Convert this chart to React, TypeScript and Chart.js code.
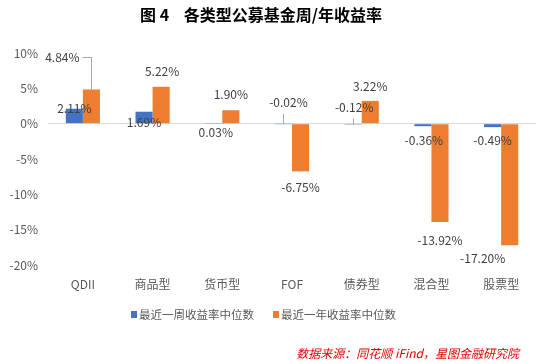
import React, { useEffect, useRef } from "react";
import { Chart, registerables } from "chart.js";

Chart.register(...registerables);

const categories = ["QDII", "商品型", "货币型", "FOF", "债券型", "混合型", "股票型"];
const weeklyMedian = [2.11, 1.69, 0.03, -0.02, -0.12, -0.36, -0.49];
const yearlyMedian = [4.84, 5.22, 1.9, -6.75, 3.22, -13.92, -17.2];
const seriesNames = ["最近一周收益率中位数", "最近一年收益率中位数"];
const seriesColors = ["#4472C4", "#ED7D31"];
const yTicks = [10, 5, 0, -5, -10, -15, -20];
const titleText = "图 4    各类型公募基金周/年收益率";
const sourceText = "数据来源：同花顺 iFind，星图金融研究院";

// label offsets relative to bar end (styling only)
const labelOffsets: number[][][] = [
  [[0, 0], [0, 11], [2, 9], [5, -21], [1, -17], [1, 14], [0, 13.5]],
  [[-29, -32], [1, -15], [0, -15.6], [0, 16], [0, -14], [0, 18.5], [-27, 13.5]],
];
const legendX = [131, 273];

const FONT = "'Noto Sans CJK SC', 'Noto Sans', sans-serif";

const labelPlugin = {
  id: "valueLabels",
  afterDatasetsDraw(chart: any) {
    const ctx = chart.ctx;
    ctx.save();
    ctx.font = `12px ${FONT}`;
    ctx.fillStyle = "#404040";
    ctx.textAlign = "center";
    ctx.textBaseline = "middle";
    chart.data.datasets.forEach((ds: any, di: number) => {
      const meta = chart.getDatasetMeta(di);
      meta.data.forEach((el: any, i: number) => {
        const v = ds.data[i] as number;
        const [dx, dy] = labelOffsets[di][i];
        const x = el.x + dx;
        const y = el.y + dy;
        const txt = v.toFixed(2) + "%";
        ctx.fillText(txt, x, y);
        ctx.strokeStyle = "#a6a6a6";
        ctx.lineWidth = 1;
        if (di === 1 && i === 0) {
          const w = ctx.measureText(txt).width;
          ctx.beginPath();
          ctx.moveTo(x + w / 2 + 3, Math.round(y) + 0.5);
          ctx.lineTo(Math.round(el.x) + 0.5, Math.round(y) + 0.5);
          ctx.lineTo(Math.round(el.x) + 0.5, el.y);
          ctx.stroke();
        }
        if (di === 0 && (i === 3 || i === 4)) {
          ctx.beginPath();
          ctx.moveTo(Math.round(el.x) + 0.5, y + 11);
          ctx.lineTo(Math.round(el.x) + 0.5, el.y);
          ctx.stroke();
        }
      });
    });
    ctx.restore();
  },
  afterDraw(chart: any) {
    const ctx = chart.ctx;
    ctx.save();
    // title
    ctx.font = `bold 16px ${FONT}`;
    ctx.fillStyle = "#000000";
    ctx.textAlign = "center";
    ctx.textBaseline = "middle";
    ctx.fillText(titleText, 261, 15);
    // legend
    ctx.font = `11.5px ${FONT}`;
    ctx.textAlign = "left";
    chart.data.datasets.forEach((ds: any, di: number) => {
      const lx = legendX[di];
      ctx.fillStyle = seriesColors[di];
      ctx.fillRect(lx, 311, 6, 7);
      ctx.fillStyle = "#595959";
      ctx.fillText(ds.label, lx + 8, 315);
    });
    // source
    ctx.font = `italic 12px ${FONT}`;
    ctx.fillStyle = "#e00000";
    ctx.textAlign = "right";
    ctx.fillText(sourceText, 519, 353);
    ctx.restore();
  },
};

export default function App() {
  const ref = useRef<HTMLCanvasElement | null>(null);
  useEffect(() => {
    document.body.style.margin = "0";
    const chart = new Chart(ref.current as HTMLCanvasElement, {
      type: "bar",
      data: {
        labels: categories,
        datasets: [
          {
            label: seriesNames[0],
            data: weeklyMedian,
            backgroundColor: seriesColors[0],
            categoryPercentage: 0.49,
            barPercentage: 1,
          },
          {
            label: seriesNames[1],
            data: yearlyMedian,
            backgroundColor: seriesColors[1],
            categoryPercentage: 0.49,
            barPercentage: 1,
          },
        ],
      },
      options: {
        animation: false,
        responsive: false,
        layout: { padding: { top: 53, left: 9, right: 18, bottom: 60.6 } },
        plugins: {
          title: { display: false },
          tooltip: { enabled: false },
          legend: { display: false },
        },
        scales: {
          x: {
            grid: { display: false, drawTicks: false },
            border: { display: false },
            ticks: { color: "#595959", padding: 12, font: { size: 12, family: FONT } },
          },
          y: {
            min: -20,
            max: 10,
            afterBuildTicks: (axis: any) => {
              axis.ticks = yTicks.map((v) => ({ value: v }));
            },
            afterFit: (axis: any) => {
              axis.width = 39;
            },
            grid: {
              drawTicks: false,
              color: (c: any) => (c.tick && c.tick.value === 0 ? "#d9d9d9" : "rgba(0,0,0,0)"),
            },
            border: { display: false },
            ticks: {
              color: "#595959",
              padding: 10,
              font: { size: 12, family: FONT },
              callback: (v: any) => v + "%",
            },
          },
        },
      },
      plugins: [labelPlugin],
    });
    return () => chart.destroy();
  }, []);
  return (
    <div style={{ position: "fixed", left: 0, top: 0, width: 554, height: 364, background: "#fff" }}>
      <canvas ref={ref} width={554} height={364} />
    </div>
  );
}
